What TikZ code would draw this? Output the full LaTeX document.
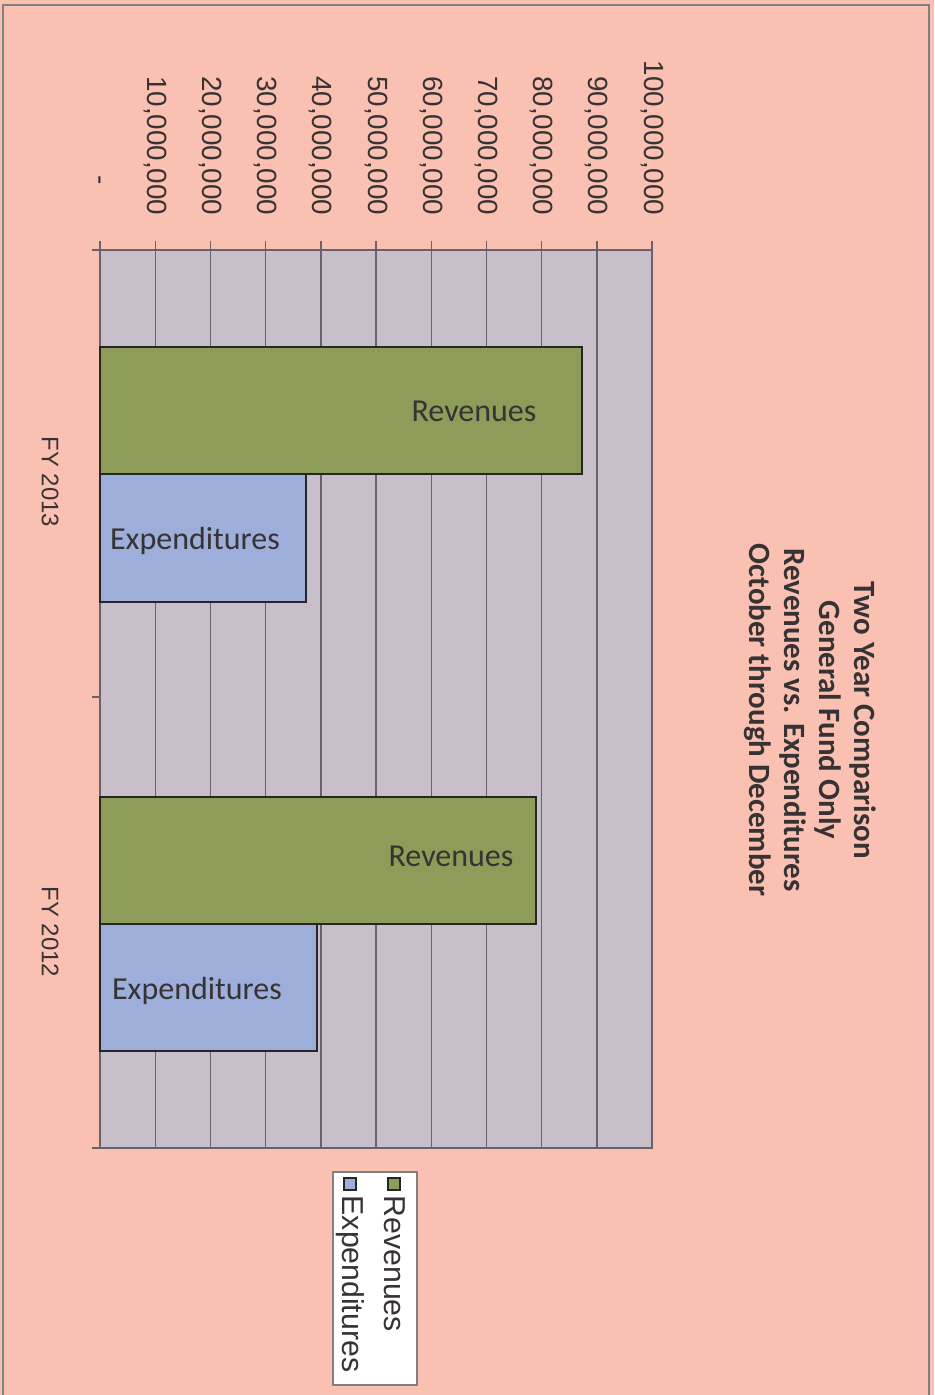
\documentclass[tikz,border=0pt]{standalone}
\usepackage{fontspec}
\setmainfont{Liberation Sans}
\newfontfamily\calibrifont{Carlito}
\usepackage{tikz}

\definecolor{pagepink}{RGB}{250,193,178}
\definecolor{plotlav}{RGB}{200,191,203}
\definecolor{revgreen}{RGB}{141,156,88}
\definecolor{expblue}{RGB}{157,174,218}
\definecolor{gridgray}{RGB}{105,98,108}
\definecolor{textgray}{RGB}{55,50,52}

\begin{document}
\begin{tikzpicture}[x=0.01cm, y=-0.01cm, text=textgray,
  font=\fontsize{7.9}{9}\selectfont,
  valuelabel/.style={rotate=-90, anchor=east, inner sep=0pt},
  catlabel/.style={rotate=-90, inner sep=0pt, font=\fontsize{6.8}{8}\selectfont},
  barlabel/.style={inner sep=0pt, font=\calibrifont\fontsize{9.1}{10}\selectfont},
  legendlabel/.style={rotate=-90, anchor=west, inner sep=0pt, font=\fontsize{8.6}{10}\selectfont},
  revbar/.style={fill=revgreen, draw=black!85, line width=0.6pt},
  expbar/.style={fill=expblue, draw=black!85, line width=0.6pt}]
  \useasboundingbox (0,0) rectangle (934,1395);
  \fill[pagepink] (0,0) rectangle (934,1395);
  \draw[gray, line width=0.6pt] (3,1395) -- (3,5) -- (929,5) -- (929,1395);

  % plot area and grid
  \draw[fill=plotlav, draw=gridgray, line width=0.4pt] (100,250) rectangle (652,1148);
  \foreach \v in {1,...,9} \draw[gridgray, line width=0.4pt] (100+55.2*\v,250) -- (100+55.2*\v,1148);
  \draw[gridgray, line width=0.6pt] (92,250) -- (652,250);
  \foreach \v in {0,...,10} \draw[gridgray, line width=0.4pt] (100+55.2*\v,241) -- (100+55.2*\v,250);
  \draw[gridgray, line width=0.6pt] (100,250) -- (100,1148);
  \foreach \c in {250,697,1148} \draw[gridgray, line width=0.6pt] (92,\c) -- (100,\c);

  % value labels
  \node[valuelabel] (v0) at (97,185) {-};
  \foreach \v in {1,...,10} \node[valuelabel] (v\v) at (100+55.2*\v,216) {\v0,000,000};

  % bars
  \draw[revbar] (100,347) rectangle (582,474);
  \draw[expbar] (100,474) rectangle (306,602);
  \draw[revbar] (100,797) rectangle (536,924);
  \draw[expbar] (100,924) rectangle (317,1051);
  \node[barlabel] (rev13) at (474,411) {Revenues};
  \node[barlabel] (exp13) at (195,541) {Expenditures};
  \node[barlabel] (rev12) at (451,856) {Revenues};
  \node[barlabel] (exp12) at (197,991) {Expenditures};

  % categories
  \node[catlabel] (fy13) at (50,482) {FY 2013};
  \node[catlabel] (fy12) at (50,932) {FY 2012};

  % title
  \node[rotate=-90, align=center, inner sep=0pt, font=\calibrifont\bfseries\fontsize{8.8}{10}\selectfont] (title) at (810,720)
    {Two Year Comparison\\General Fund Only\\Revenues vs. Expenditures\\October through December};

  % legend
  \draw[fill=white, draw=gray, line width=0.5pt] (333,1172) rectangle (417,1385);
  \draw[fill=revgreen, draw=black!85, line width=0.6pt] (388,1178) rectangle (400,1190);
  \draw[fill=expblue, draw=black!85, line width=0.6pt] (344,1178) rectangle (356,1190);
  \node[legendlabel] (legrev) at (395,1195) {Revenues};
  \node[legendlabel] (legexp) at (350,1195) {Expenditures};
\end{tikzpicture}
\end{document}
